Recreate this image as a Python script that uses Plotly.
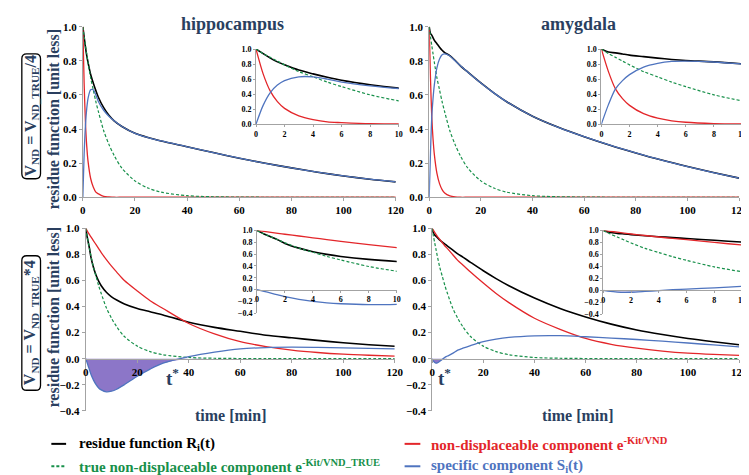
import plotly.graph_objects as go
import numpy as np

W, H = 749, 475

# ---------------- data ----------------
t_min = [0, 0.5, 1, 1.5, 2, 3, 4, 5, 6, 8, 10, 12, 15, 20, 25, 30, 40, 50, 60, 70, 80, 90, 100, 110, 120]

green_true = [1.0, 0.94, 0.89, 0.84, 0.79, 0.70, 0.63, 0.56, 0.50, 0.39, 0.31, 0.245, 0.17, 0.096, 0.054,
              0.03, 0.009, 0.003, 0.001, 0, 0, 0, 0, 0, 0]

hip_top_black = [1.0, 0.94, 0.88, 0.83, 0.79, 0.72, 0.67, 0.625, 0.585, 0.525, 0.48, 0.448, 0.415, 0.375, 0.35,
                 0.33, 0.296, 0.262, 0.229, 0.199, 0.172, 0.147, 0.125, 0.106, 0.09]
hip_top_red = [1.0, 0.67, 0.44, 0.30, 0.21, 0.11, 0.06, 0.03, 0.02, 0.005, 0.002, 0, 0, 0, 0,
               0, 0, 0, 0, 0, 0, 0, 0, 0, 0]
hip_top_blue = [0, 0.25, 0.42, 0.52, 0.58, 0.63, 0.63, 0.60, 0.56, 0.51, 0.475, 0.448, 0.415, 0.375, 0.35,
                0.33, 0.296, 0.262, 0.229, 0.199, 0.172, 0.147, 0.125, 0.106, 0.09]

amy_top_black = [1.0, 0.96, 0.95, 0.935, 0.92, 0.90, 0.88, 0.862, 0.848, 0.83, 0.803, 0.772, 0.733, 0.67, 0.612,
                 0.56, 0.475, 0.41, 0.355, 0.305, 0.26, 0.218, 0.18, 0.145, 0.112]
amy_top_red = [1.0, 0.70, 0.47, 0.34, 0.25, 0.14, 0.08, 0.045, 0.025, 0.008, 0.002, 0, 0, 0, 0,
               0, 0, 0, 0, 0, 0, 0, 0, 0, 0]
amy_top_blue = [0, 0.26, 0.47, 0.58, 0.66, 0.76, 0.81, 0.835, 0.84, 0.828, 0.80, 0.772, 0.733, 0.67, 0.612,
                0.56, 0.475, 0.41, 0.355, 0.305, 0.26, 0.218, 0.18, 0.145, 0.112]

hip_bot_black = [1.0, 0.94, 0.89, 0.84, 0.78, 0.70, 0.64, 0.595, 0.56, 0.51, 0.475, 0.45, 0.42, 0.385, 0.36,
                 0.335, 0.28, 0.24, 0.21, 0.18, 0.16, 0.14, 0.122, 0.107, 0.095]
hip_bot_red = [1.0, 0.983, 0.966, 0.95, 0.935, 0.905, 0.875, 0.845, 0.815, 0.76, 0.71, 0.665, 0.60, 0.52, 0.445,
               0.385, 0.27, 0.19, 0.13, 0.093, 0.066, 0.047, 0.034, 0.026, 0.02]
hip_bot_blue = [0, -0.03, -0.06, -0.09, -0.12, -0.165, -0.20, -0.225, -0.24, -0.255, -0.25, -0.235, -0.20, -0.135,
                -0.08, -0.035, 0.015, 0.05, 0.075, 0.085, 0.088, 0.086, 0.083, 0.079, 0.075]

amy_bot_black = [1.0, 0.965, 0.95, 0.94, 0.93, 0.91, 0.895, 0.88, 0.865, 0.835, 0.805, 0.78, 0.74, 0.675, 0.615,
                 0.56, 0.465, 0.385, 0.32, 0.265, 0.22, 0.185, 0.155, 0.13, 0.107]
amy_bot_red = [1.0, 0.985, 0.97, 0.955, 0.94, 0.915, 0.89, 0.865, 0.845, 0.80, 0.755, 0.72, 0.665, 0.58, 0.50,
               0.43, 0.31, 0.225, 0.155, 0.11, 0.08, 0.058, 0.042, 0.032, 0.025]
amy_bot_blue = [0, -0.02, -0.03, -0.035, -0.033, -0.02, -0.005, 0.01, 0.02, 0.04, 0.065, 0.08, 0.10, 0.13, 0.15,
                0.163, 0.175, 0.176, 0.168, 0.158, 0.147, 0.134, 0.12, 0.105, 0.09]

region_titles = ["hippocampus", "amygdala"]
row_labels = ["V<sub>ND</sub> = V<sub>ND_TRUE</sub>/4", "V<sub>ND</sub> = V<sub>ND_TRUE</sub>*4"]
y_title = "residue function [unit less]"
x_title = "time [min]"
legend_labels = ["residue function R<sub>i</sub>(t)",
                 "non-displaceable component e<sup>-Kit/VND</sup>",
                 "true non-displaceable component e<sup>-Kit/VND_TRUE</sup>",
                 "specific component S<sub>i</sub>(t)"]

# ---------------- style ----------------
SERIF = "Liberation Serif"
C_BLACK = "#000000"
C_RED = "#e3262a"
C_GREEN = "#17904a"
C_BLUE = "#4f74bf"
C_FILL = "rgb(140,118,200)"
C_FILL_LIGHT = "rgba(160,145,215,0.45)"
C_AXIS = "#a3a3a3"

fig = go.Figure()


def fx(p):
    return p / W


def fy(p):
    return 1 - p / H


def add_axes(n, x0, x1, yt, yb, yr, xr, xdtick, fs, tl):
    ydom = [fy(yb), fy(yt)]
    tf = dict(family=SERIF, size=fs, color="black", weight="bold")
    xa = dict(domain=[fx(x0), fx(x1)], range=xr, dtick=xdtick, tick0=0, showgrid=False, zeroline=False,
              showline=True, linecolor=C_AXIS, linewidth=1, ticks="outside", ticklen=tl, tickcolor=C_AXIS,
              tickfont=tf)
    if yr[0] < 0:
        pos = ydom[0] + (0 - yr[0]) / (yr[1] - yr[0]) * (ydom[1] - ydom[0])
        xa.update(anchor="free", position=pos)
    else:
        xa.update(anchor="y" + n)
    ya = dict(domain=ydom, range=yr, dtick=0.2, tick0=0, tickformat=".1f", anchor="x" + n,
              showgrid=False, zeroline=False, showline=True, linecolor=C_AXIS, linewidth=1,
              ticks="outside", ticklen=tl, tickcolor=C_AXIS, tickfont=tf)
    fig.layout["xaxis" + n] = xa
    fig.layout["yaxis" + n] = ya


def add_lines(n, black, red, blue, fill, lw):
    ax = dict(xaxis="x" + n, yaxis="y" + n, mode="lines", showlegend=False, hoverinfo="skip")
    if fill:
        fig.add_trace(go.Scatter(x=t_min, y=np.minimum(np.array(blue), 0), fill="tozeroy", fillcolor=fill,
                                 line=dict(width=0, shape="spline", smoothing=0.8), **ax))
    fig.add_trace(go.Scatter(x=t_min, y=black, line=dict(color=C_BLACK, width=lw + 0.3, shape="spline",
                                                         smoothing=0.8), **ax))
    fig.add_trace(go.Scatter(x=t_min, y=red, line=dict(color=C_RED, width=lw, shape="spline", smoothing=0.8), **ax))
    fig.add_trace(go.Scatter(x=t_min, y=green_true, line=dict(color=C_GREEN, width=lw - 0.1, shape="spline",
                                                              smoothing=0.8, dash="3px,2px"), **ax))
    fig.add_trace(go.Scatter(x=t_min, y=blue, line=dict(color=C_BLUE, width=lw, shape="spline", smoothing=0.8), **ax))


panels = [
    # axis id, x0, x1, ytop, ybot (pixels), y range, series, fill
    ("", 73, 391, 13, 188, [0, 1], (hip_top_black, hip_top_red, hip_top_blue), None),
    ("2", 425, 740, 13, 188, [0, 1], (amy_top_black, amy_top_red, amy_top_blue), None),
    ("3", 76, 390, 220, 407, [-0.4, 1], (hip_bot_black, hip_bot_red, hip_bot_blue), C_FILL),
    ("4", 428, 740, 220, 407, [-0.4, 1], (amy_bot_black, amy_bot_red, amy_bot_blue), C_FILL),
]
insets = [
    ("5", 249, 394, 36, 113, [0, 1], (hip_top_black, hip_top_red, hip_top_blue), None),
    ("6", 600, 743, 36, 113, [0, 1], (amy_top_black, amy_top_red, amy_top_blue), None),
    ("7", 250, 392, 222, 307, [-0.4, 1], (hip_bot_black, hip_bot_red, hip_bot_blue), None),
    ("8", 602, 743, 222, 308, [-0.4, 1], (amy_bot_black, amy_bot_red, amy_bot_blue), C_FILL_LIGHT),
]

for n, x0, x1, yt, yb, yr, s, fill in panels:
    add_axes(n, x0, x1, yt, yb, yr, [0, 120], 20, 11, 3)
    add_lines(n, *s, fill, 1.3)
for n, x0, x1, yt, yb, yr, s, fill in insets:
    add_axes(n, x0, x1, yt, yb, yr, [0, 10], 2, 8, 2)
    add_lines(n, *s, fill, 1.3)

fig.layout.xaxis.anchor = "y"
fig.layout.yaxis.anchor = "x"

ann = []
B = "bold"
ann.append(dict(x=fx(225), y=fy(10), text=region_titles[0], font=dict(family=SERIF, size=18, weight=B)))
ann.append(dict(x=fx(577), y=fy(10), text=region_titles[1], font=dict(family=SERIF, size=18, weight=B)))
ann.append(dict(x=fx(43), y=fy(108), text=y_title, textangle=-90, font=dict(family=SERIF, size=16, weight=B)))
ann.append(dict(x=fx(43), y=fy(311), text=y_title, textangle=-90, font=dict(family=SERIF, size=16, weight=B)))
ann.append(dict(x=fx(20.5), y=fy(105), text=row_labels[0], textangle=-90, font=dict(family=SERIF, size=16, weight=B)))
ann.append(dict(x=fx(20.5), y=fy(317), text=row_labels[1], textangle=-90, font=dict(family=SERIF, size=16, weight=B)))
ann.append(dict(x=fx(224), y=fy(412), text=x_title, font=dict(family=SERIF, size=16, weight=B)))
ann.append(dict(x=fx(576), y=fy(412), text=x_title, font=dict(family=SERIF, size=16, weight=B)))
ann.append(dict(x=fx(164), y=fy(372), text="t<sup>*</sup>", font=dict(family=SERIF, size=19, weight=B)))
ann.append(dict(x=fx(441), y=fy(372), text="t<sup>*</sup>", font=dict(family=SERIF, size=19, weight=B)))

leg_pos = [(67, 441, C_BLACK), (425, 441, C_RED), (67, 464, C_GREEN), (425, 464, C_BLUE)]
for (lx, ly, col), lab in zip(leg_pos, legend_labels):
    ann.append(dict(x=fx(lx), y=fy(ly), text=lab, xanchor="left",
                    font=dict(family=SERIF, size=15, weight=B, color=col)))

for a in ann:
    a.setdefault("xanchor", "center")
    a.update(xref="paper", yref="paper", showarrow=False, yanchor="middle")
fig.update_layout(annotations=ann)

shapes = []
seg = [(41, 56, 441, C_BLACK, "solid"), (400, 416, 441, C_RED, "solid"),
       (41, 56, 464, C_GREEN, "3px,2px"), (400, 416, 464, C_BLUE, "solid")]
for x0, x1, yy, col, d in seg:
    shapes.append(dict(type="line", xref="paper", yref="paper", x0=fx(x0), x1=fx(x1), y0=fy(yy), y1=fy(yy),
                       line=dict(color=col, width=2, dash=d)))


def rrect(x0, y0, x1, y1, r):
    pts = [("M", x0 + r, y0), ("L", x1 - r, y0), ("Q", x1, y0, x1, y0 + r), ("L", x1, y1 - r),
           ("Q", x1, y1, x1 - r, y1), ("L", x0 + r, y1), ("Q", x0, y1, x0, y1 - r), ("L", x0, y0 + r),
           ("Q", x0, y0, x0 + r, y0)]
    out = []
    for p in pts:
        if p[0] == "Q":
            out.append("Q %.5f,%.5f %.5f,%.5f" % (fx(p[1]), fy(p[2]), fx(p[3]), fy(p[4])))
        else:
            out.append("%s %.5f,%.5f" % (p[0], fx(p[1]), fy(p[2])))
    return " ".join(out) + " Z"


for (bx0, by0, bx1, by1) in [(11, 41, 30, 169), (11, 248, 30, 386)]:
    shapes.append(dict(type="path", xref="paper", yref="paper", path=rrect(bx0, by0, bx1, by1, 5),
                       line=dict(color="black", width=1.3)))

fig.update_layout(shapes=shapes, width=W, height=H, margin=dict(l=0, r=0, t=0, b=0),
                  paper_bgcolor="white", plot_bgcolor="rgba(0,0,0,0)", showlegend=False)

fig.write_html("out.html")
